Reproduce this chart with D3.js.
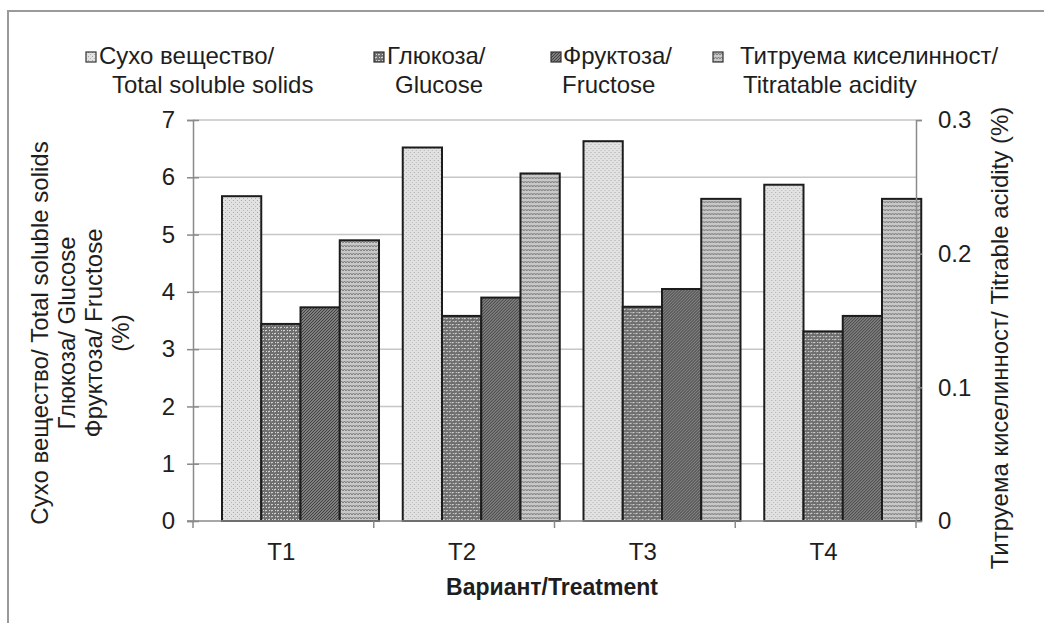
<!DOCTYPE html>
<html>
<head>
<meta charset="utf-8">
<script src="https://cdn.jsdelivr.net/npm/d3@7"></script>
<style>
  html, body { margin: 0; padding: 0; background: #fff; }
  svg { display: block; font-family: "Liberation Sans", Arial, sans-serif; }
</style>
</head>
<body>
<div id="chart"></div>
<script>
// data
const categories = ['T1', 'T2', 'T3', 'T4'];
const tss = [5.67, 6.52, 6.63, 5.87];        // Сухо вещество / Total soluble solids (%)
const glucose = [3.44, 3.58, 3.74, 3.31];    // Глюкоза / Glucose (%)
const fructose = [3.73, 3.90, 4.05, 3.58];   // Фруктоза / Fructose (%)
const acidity = [0.21, 0.26, 0.241, 0.241];  // Титруема киселинност / Titratable acidity (%) – right axis
const leftTicks = [0, 1, 2, 3, 4, 5, 6, 7];
const rightTicks = [0, 0.1, 0.2, 0.3];

const seriesKeys = ['tss', 'glucose', 'fructose', 'acidity'];
const legendLines = [
  ['Сухо вещество/', 'Total soluble solids'],
  ['Глюкоза/', 'Glucose'],
  ['Фруктоза/', 'Fructose'],
  ['Титруема киселинност/', 'Titratable acidity']
];

const width = 1044;
const height = 623;
const plotLeft = 193;
const plotRight = 916;
const plotTop = 120;
const plotBottom = 521;

const svg = d3.select('#chart')
  .append('svg')
  .attr('width', width)
  .attr('height', height);

// ---- fill patterns (grey textures like the original) ----
const defs = svg.append('defs');

const pTss = defs.append('pattern').attr('id', 'p-tss')
  .attr('width', 4).attr('height', 4).attr('patternUnits', 'userSpaceOnUse');
pTss.append('rect').attr('width', 4).attr('height', 4).attr('fill', '#e2e2e2');
pTss.append('rect').attr('x', 0).attr('y', 0).attr('width', 1).attr('height', 1).attr('fill', '#a8a8a8');
pTss.append('rect').attr('x', 2).attr('y', 2).attr('width', 1).attr('height', 1).attr('fill', '#b4b4b4');

// glucose: grey with white specks
const pGlu = defs.append('pattern').attr('id', 'p-glucose')
  .attr('width', 6).attr('height', 6).attr('patternUnits', 'userSpaceOnUse');
pGlu.append('rect').attr('width', 6).attr('height', 6).attr('fill', '#6e6e6e');
pGlu.append('path').attr('d', 'M0,1 L2,0 M3,4 L5,3')
  .attr('stroke', '#eeeeee').attr('stroke-width', 1);
pGlu.append('rect').attr('x', 1).attr('y', 3).attr('width', 1).attr('height', 1).attr('fill', '#d8d8d8');
pGlu.append('rect').attr('x', 4).attr('y', 0).attr('width', 1).attr('height', 1).attr('fill', '#d8d8d8');

const pFru = defs.append('pattern').attr('id', 'p-fructose')
  .attr('width', 3).attr('height', 3).attr('patternUnits', 'userSpaceOnUse');
pFru.append('rect').attr('width', 3).attr('height', 3).attr('fill', '#999');
pFru.append('path').attr('d', 'M-1,1 L1,-1 M0,3 L3,0 M2,4 L4,2')
  .attr('stroke', '#3c3c3c').attr('stroke-width', 1.1);

const pAci = defs.append('pattern').attr('id', 'p-acidity')
  .attr('width', 6).attr('height', 4).attr('patternUnits', 'userSpaceOnUse');
pAci.append('rect').attr('width', 6).attr('height', 4).attr('fill', '#c8c8c8');
pAci.append('path').attr('d', 'M0,3 L1.5,1 L3,3 L4.5,1 L6,3')
  .attr('fill', 'none').attr('stroke', '#7c7c7c').attr('stroke-width', 1);

const fills = {
  tss: 'url(#p-tss)',
  glucose: 'url(#p-glucose)',
  fructose: 'url(#p-fructose)',
  acidity: 'url(#p-acidity)'
};

// outer frame (runs off the right and bottom of the picture)
svg.append('rect')
  .attr('x', 8).attr('y', 11)
  .attr('width', width + 20).attr('height', height + 20)
  .attr('fill', 'none').attr('stroke', '#9a9a9a').attr('stroke-width', 2);

// ---- scales ----
const x0 = d3.scaleBand().domain(categories).range([plotLeft, plotRight]).padding(0);
const x1 = d3.scaleBand().domain(seriesKeys).range([29, 186]).padding(0);
const y = d3.scaleLinear().domain([0, 7]).range([plotBottom, plotTop]);
const y2 = d3.scaleLinear().domain([0, 0.3]).range([plotBottom, plotTop]);

// gridlines
svg.append('g')
  .selectAll('line')
  .data(leftTicks.filter(d => d > 0))
  .enter()
  .append('line')
  .attr('x1', plotLeft).attr('x2', plotRight)
  .attr('y1', d => y(d)).attr('y2', d => y(d))
  .attr('stroke', '#c6c6c6').attr('stroke-width', 1.5);

// ---- bars ----
const rows = categories.map((c, i) => ({
  category: c,
  values: [
    { key: 'tss', v: tss[i], scale: y },
    { key: 'glucose', v: glucose[i], scale: y },
    { key: 'fructose', v: fructose[i], scale: y },
    { key: 'acidity', v: acidity[i], scale: y2 }
  ]
}));

const groups = svg.append('g')
  .selectAll('g')
  .data(rows)
  .enter()
  .append('g')
  .attr('transform', d => `translate(${x0(d.category)},0)`);

groups.selectAll('rect')
  .data(d => d.values)
  .enter()
  .append('rect')
  .attr('x', d => x1(d.key))
  .attr('width', x1.bandwidth())
  .attr('y', d => d.scale(d.v))
  .attr('height', d => plotBottom - d.scale(d.v))
  .attr('fill', d => fills[d.key])
  .attr('stroke', '#1c1c1c')
  .attr('stroke-width', 2);

// ---- axes ----
const axisColor = '#8a8a8a';
const textColor = '#1e1e1e';

// left axis with cross ticks
const leftAxis = svg.append('g')
  .attr('transform', `translate(${plotLeft},0)`)
  .call(d3.axisLeft(y).tickValues(leftTicks).tickSize(6).tickPadding(12).tickFormat(d3.format('d')));
leftAxis.selectAll('.tick line').attr('x2', -6).attr('x1', 6);
leftAxis.select('.domain').attr('stroke', axisColor).attr('stroke-width', 1.5);
leftAxis.selectAll('.tick line').attr('stroke', axisColor).attr('stroke-width', 1.5);
leftAxis.selectAll('text')
  .attr('font-size', 24).attr('fill', textColor)
  .attr('font-family', '"Liberation Sans", Arial, sans-serif');

// right axis
const rightAxis = svg.append('g')
  .attr('transform', `translate(${plotRight},0)`)
  .call(d3.axisRight(y2).tickValues(rightTicks).tickSize(6).tickPadding(16)
    .tickFormat(d => d === 0 ? '0' : d3.format('.1f')(d)));
rightAxis.select('.domain').attr('stroke', axisColor).attr('stroke-width', 1.5);
rightAxis.selectAll('.tick line').attr('stroke', axisColor).attr('stroke-width', 1.5);
rightAxis.selectAll('text')
  .attr('font-size', 24).attr('fill', textColor)
  .attr('font-family', '"Liberation Sans", Arial, sans-serif');

// category axis: line + boundary ticks + centred labels
const bottom = svg.append('g');
bottom.append('line')
  .attr('x1', plotLeft - 6).attr('x2', plotRight)
  .attr('y1', plotBottom).attr('y2', plotBottom)
  .attr('stroke', axisColor).attr('stroke-width', 1.5);
bottom.selectAll('.bnd')
  .data(categories.map(c => x0(c)).concat([plotRight]))
  .enter()
  .append('line')
  .attr('x1', d => d).attr('x2', d => d)
  .attr('y1', plotBottom).attr('y2', plotBottom + 7)
  .attr('stroke', axisColor).attr('stroke-width', 1.5);
bottom.selectAll('text')
  .data(categories)
  .enter()
  .append('text')
  .attr('x', d => x0(d) + x0.bandwidth() / 2 - 2)
  .attr('y', 560)
  .attr('text-anchor', 'middle')
  .attr('font-size', 24)
  .attr('fill', textColor)
  .text(d => d);

// axis titles
svg.append('text')
  .attr('x', 552).attr('y', 595)
  .attr('text-anchor', 'middle')
  .attr('font-size', 23)
  .attr('font-weight', 'bold')
  .attr('fill', textColor)
  .text('Вариант/Treatment');

const leftTitle = svg.append('text')
  .attr('transform', 'translate(0,333) rotate(-90)')
  .attr('text-anchor', 'middle')
  .attr('font-size', 24)
  .attr('fill', textColor);
['Сухо вещество/ Total soluble solids', 'Глюкоза/ Glucose', 'Фруктоза/ Fructose', '(%)']
  .forEach((t, i) => {
    leftTitle.append('tspan')
      .attr('x', 0)
      .attr('y', 48 + i * 27)
      .text(t);
  });

svg.append('text')
  .attr('transform', 'translate(1008,338) rotate(-90)')
  .attr('text-anchor', 'middle')
  .attr('font-size', 24)
  .attr('fill', textColor)
  .text('Титруема киселинност/ Titrable acidity (%)');

// ---- legend ----
const legendX = [86, 374, 551, 713];       // marker positions
const line1X = [99, 387, 563, 740];        // first-line starts
const line2X = [112, 395, 562, 743];       // second-line starts

const legend = svg.append('g');
const items = legend.selectAll('g')
  .data(seriesKeys)
  .enter()
  .append('g');

items.append('rect')
  .attr('x', (d, i) => legendX[i])
  .attr('y', 52)
  .attr('width', 10).attr('height', 10)
  .attr('fill', d => fills[d])
  .attr('stroke', '#333').attr('stroke-width', 1.2);

items.append('text')
  .attr('x', (d, i) => line1X[i])
  .attr('y', 64)
  .attr('font-size', 24)
  .attr('fill', textColor)
  .text((d, i) => legendLines[i][0]);

items.append('text')
  .attr('x', (d, i) => line2X[i])
  .attr('y', 93)
  .attr('font-size', 24)
  .attr('fill', textColor)
  .text((d, i) => legendLines[i][1]);
</script>
</body>
</html>
